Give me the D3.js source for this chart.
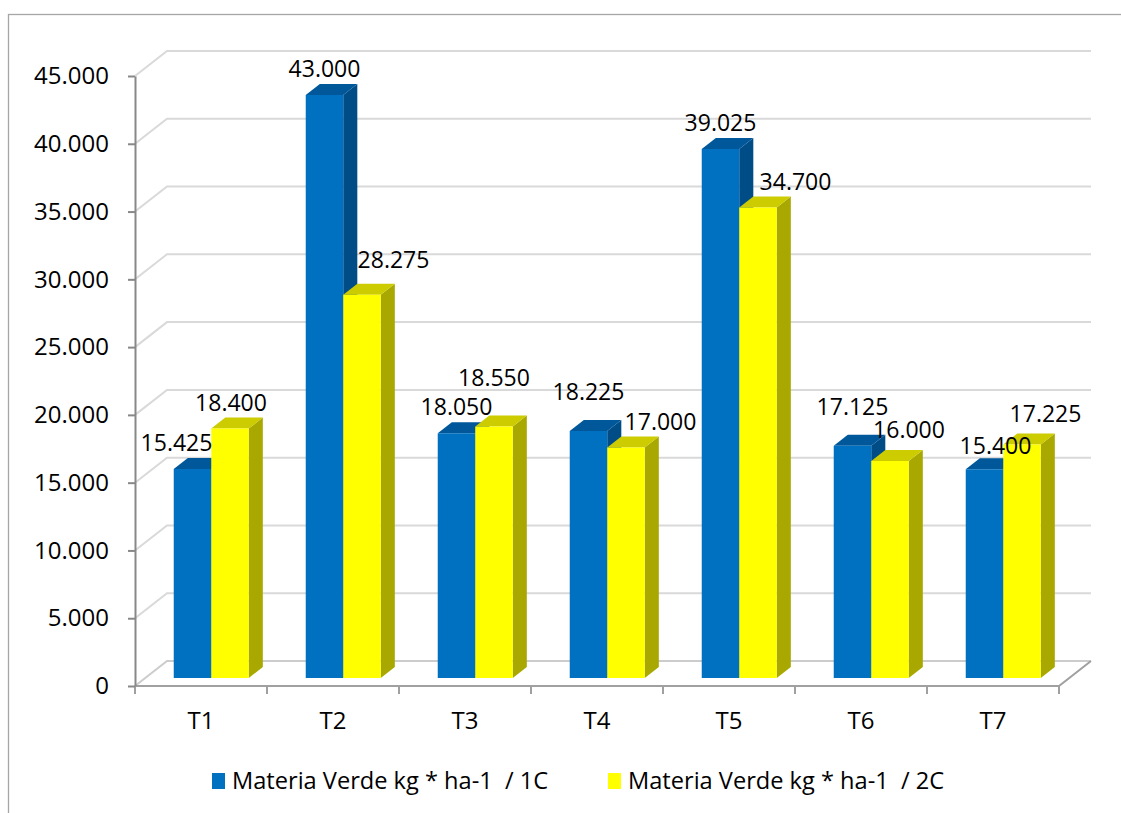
<!DOCTYPE html>
<html>
<head>
<meta charset="utf-8">
<script src="https://cdn.jsdelivr.net/npm/d3@7"></script>
<style>
  html, body { margin: 0; padding: 0; background: #ffffff; }
  svg { display: block; font-family: "Open Sans", "Liberation Sans", sans-serif; }
  text { fill: #000000; }
</style>
</head>
<body>
<svg id="chart" width="1121" height="813"></svg>
<script>
// ---------- data ----------
const categories = ["T1", "T2", "T3", "T4", "T5", "T6", "T7"];
const seriesNames = ["Materia Verde kg * ha-1  / 1C", "Materia Verde kg * ha-1  / 2C"];
const values1C = [15425, 43000, 18050, 18225, 39025, 17125, 15400];
const values2C = [18400, 28275, 18550, 17000, 34700, 16000, 17225];
const yTickValues = [0, 5000, 10000, 15000, 20000, 25000, 30000, 35000, 40000, 45000];

// ---------- layout ----------
const plot = { left: 135, right: 1059, top: 76, bottom: 686 };
const depth = { dx: 32, dy: -25 };          // full floor depth in projection
const barDepth = { front: 0.32, back: 0.76 };
const seriesColors = [
  { front: "#0070C0", top: "#00579a", side: "#004c86" },
  { front: "#FFFF00", top: "#CCCC00", side: "#A8A800" }
];
// manual label nudges (px) as in the original
const labelNudge = [
  [[-16, 0], [0, 0], [0, 0], [0, -13], [0, 0], [0, -13], [11, 3]],
  [[1, 0], [31.5, -9], [0, -23], [34.5, 0], [37.5, 0], [19, -5.5], [23.5, -5]]
];

const svg = d3.select("#chart");
const fmt = d3.formatLocale({ decimal: ",", thousands: ".", grouping: [3], currency: ["", ""] }).format(",");

const x = d3.scaleBand().domain(categories).range([plot.left, plot.right]).paddingInner(0).paddingOuter(0);
const xs = d3.scaleBand().domain([0, 1]).range([28.5, 103.5]);
const y = d3.scaleLinear().domain([0, 45000]).range([plot.bottom, plot.top]);

const proj = (px, py, d) => [px + depth.dx * d, py + depth.dy * d];

// outer border
svg.append("rect").attr("x", 8.5).attr("y", 14.5).attr("width", 1200).attr("height", 900)
  .attr("fill", "none").attr("stroke", "#a6a6a6").attr("stroke-width", 1.3);

// gridlines (left wall + back wall)
const grid = svg.append("g");
yTickValues.forEach(v => {
  const a = [plot.left, y(v)];
  const b = proj(plot.left, y(v), 1);
  const c = proj(plot.right, y(v), 1);
  grid.append("path")
    .attr("d", `M${a[0]},${a[1]}L${b[0]},${b[1]}L${c[0]},${c[1]}`)
    .attr("fill", "none").attr("stroke", v === 0 ? "#cccccc" : "#d9d9d9").attr("stroke-width", 2);
});

// floor front + right edges
{
  const f0 = [plot.left, y(0)], f1 = [plot.right, y(0)], f2 = proj(plot.right, y(0), 1);
  svg.append("path").attr("d", `M${f0[0]},${f0[1]}L${f1[0]},${f1[1]}L${f2[0]},${f2[1]}`)
    .attr("fill", "none").attr("stroke", "#a0a0a0").attr("stroke-width", 2);
}

// category ticks at band edges
const edges = categories.map(c => x(c)).concat([plot.right]);
svg.append("g").selectAll("line").data(edges).join("line")
  .attr("x1", d => d).attr("x2", d => d).attr("y1", y(0)).attr("y2", y(0) + 8)
  .attr("stroke", "#a0a0a0").attr("stroke-width", 2);

// y axis
const yAxis = d3.axisLeft(y).tickValues(yTickValues).tickFormat(fmt).tickSize(7).tickPadding(19).tickSizeOuter(0);
const gy = svg.append("g").attr("transform", `translate(${plot.left},0)`).call(yAxis);
gy.select(".domain").attr("stroke", "#888888").attr("stroke-width", 2);
gy.selectAll(".tick line").attr("stroke", "#888888").attr("stroke-width", 2);
gy.selectAll(".tick text").attr("font-size", 24).attr("font-family", "'Open Sans', sans-serif").attr("fill", "#000");

// x axis labels
const xAxis = d3.axisBottom(x).tickSize(0).tickPadding(26);
const gx = svg.append("g").attr("transform", `translate(0,${y(0)})`).call(xAxis);
gx.select(".domain").remove();
gx.selectAll(".tick text").attr("font-size", 24).attr("font-family", "'Open Sans', sans-serif").attr("fill", "#000");

// bars
const seriesValues = [values1C, values2C];
const barsG = svg.append("g");
categories.forEach((cat, i) => {
  [0, 1].forEach(s => {
    const v = seriesValues[s][i];
    const x0 = x(cat) + xs(s), x1 = x0 + xs.bandwidth();
    const col = seriesColors[s];
    const F = (px, py) => proj(px, py, barDepth.front);
    const B = (px, py) => proj(px, py, barDepth.back);
    const ft0 = F(x0, y(v)), ft1 = F(x1, y(v)), fb0 = F(x0, y(0)), fb1 = F(x1, y(0));
    const bt0 = B(x0, y(v)), bt1 = B(x1, y(v)), bb1 = B(x1, y(0));
    const poly = pts => "M" + pts.map(p => p.join(",")).join("L") + "Z";
    barsG.append("path").attr("d", poly([ft1, bt1, bb1, fb1])).attr("fill", col.side);
    barsG.append("path").attr("d", poly([ft0, ft1, bt1, bt0])).attr("fill", col.top);
    barsG.append("path").attr("d", poly([ft0, ft1, fb1, fb0])).attr("fill", col.front);
  });
});

// data labels
const labelsG = svg.append("g");
categories.forEach((cat, i) => {
  [0, 1].forEach(s => {
    const v = seriesValues[s][i];
    const cx = x(cat) + xs(s) + xs.bandwidth() / 2;
    const ft = proj(cx, y(v), barDepth.front);
    const n = labelNudge[s][i];
    labelsG.append("text")
      .attr("x", ft[0] + n[0]).attr("y", ft[1] - 26 + n[1])
      .attr("dy", "0.35em").attr("text-anchor", "middle")
      .attr("font-size", 23).text(fmt(v));
  });
});

// legend
const legendItems = [
  { name: seriesNames[0], color: seriesColors[0].front, x: 212 },
  { name: seriesNames[1], color: seriesColors[1].front, x: 608 }
];
const lg = svg.append("g");
legendItems.forEach(it => {
  lg.append("rect").attr("x", it.x).attr("y", 773).attr("width", 13).attr("height", 16).attr("fill", it.color);
  lg.append("text").attr("x", it.x + 20).attr("y", 781).attr("dy", "0.35em")
    .attr("font-size", 23.6).style("white-space", "pre").text(it.name);
});
</script>
</body>
</html>
